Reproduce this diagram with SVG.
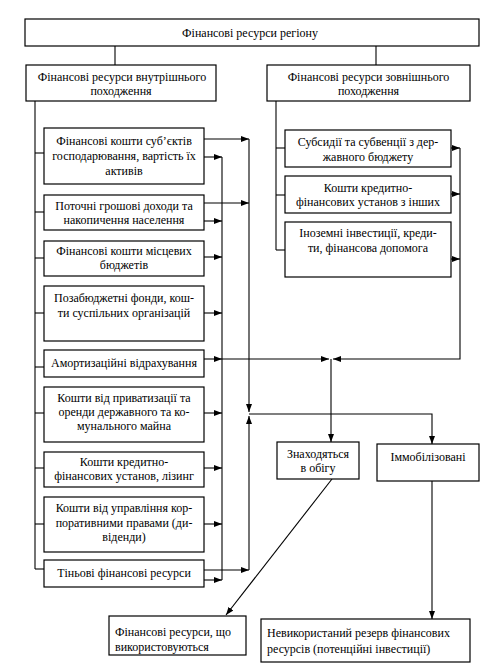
<svg xmlns="http://www.w3.org/2000/svg" width="494" height="671" viewBox="0 0 494 671">
<style>
rect.n{fill:#fff;stroke:#000;stroke-width:1.2}
text{font-family:"Liberation Serif","Times New Roman",serif;font-size:12px;fill:#000}
.c{text-anchor:middle}
#connectors line,#connectors polyline{stroke:#000;stroke-width:1.1;fill:none}
.a{marker-end:url(#ar)}
</style>
<defs>
<marker id="ar" viewBox="0 0 8 6" refX="8" refY="3" markerWidth="8" markerHeight="6" markerUnits="userSpaceOnUse" orient="auto">
<path d="M0,0 L8,3 L0,6 Z" fill="#000"/>
</marker>
</defs>
<rect width="494" height="671" fill="#fff"/>
<g id="connectors">
<line x1="115" y1="46" x2="115" y2="65"/>
<line x1="376" y1="46" x2="376" y2="65"/>
<!-- left bus -->
<line x1="35" y1="101" x2="35" y2="569"/>
<line x1="35" y1="153" x2="44" y2="153"/>
<line x1="35" y1="212" x2="44" y2="212"/>
<line x1="35" y1="258" x2="44" y2="258"/>
<line x1="35" y1="313" x2="44" y2="313"/>
<line x1="35" y1="367" x2="44" y2="367"/>
<line x1="35" y1="413" x2="44" y2="413"/>
<line x1="35" y1="468" x2="44" y2="468"/>
<line x1="35" y1="524" x2="44" y2="524"/>
<line x1="35" y1="569" x2="44" y2="569"/>
<!-- right bus -->
<line x1="276" y1="101" x2="276" y2="250"/>
<line x1="276" y1="148" x2="285" y2="148"/>
<line x1="276" y1="195" x2="285" y2="195"/>
<line x1="276" y1="250" x2="285" y2="250"/>
<!-- collector A -->
<line x1="222" y1="157" x2="222" y2="580"/>
<line class="a" x1="204" y1="157" x2="222" y2="157"/>
<line class="a" x1="204" y1="221" x2="222" y2="221"/>
<line class="a" x1="204" y1="257" x2="222" y2="257"/>
<line class="a" x1="204" y1="313" x2="222" y2="313"/>
<line class="a" x1="204" y1="359" x2="222" y2="359"/>
<line class="a" x1="204" y1="413" x2="222" y2="413"/>
<line class="a" x1="204" y1="468" x2="222" y2="468"/>
<line class="a" x1="204" y1="524" x2="222" y2="524"/>
<line class="a" x1="204" y1="580" x2="222" y2="580"/>
<!-- collector B -->
<line class="a" x1="204" y1="139" x2="249" y2="139"/>
<line class="a" x1="204" y1="203" x2="249" y2="203"/>
<line class="a" x1="204" y1="570" x2="249" y2="570"/>
<line class="a" x1="249" y1="139" x2="249" y2="412"/>
<line class="a" x1="249" y1="570" x2="249" y2="416"/>
<polyline class="a" points="249,414 432,414 432,444"/>
<!-- amortization line to circulating -->
<line class="a" x1="222" y1="359" x2="329" y2="359"/>
<!-- external collector -->
<line class="a" x1="451" y1="148" x2="460" y2="148"/>
<line class="a" x1="451" y1="194" x2="460" y2="194"/>
<line class="a" x1="451" y1="259" x2="460" y2="259"/>
<polyline class="a" points="460,148 460,359 333,359"/>
<line class="a" x1="331" y1="359" x2="331" y2="442"/>
<!-- outputs -->
<line class="a" x1="332" y1="479" x2="226" y2="615"/>
<line class="a" x1="432" y1="481" x2="432" y2="619"/>
</g>
<g id="n-region"><rect class="n" x="25" y="19" width="454" height="27"/><text class="c" x="250" y="37">Фінансові ресурси регіону</text></g>
<g id="n-internal"><rect class="n" x="26" y="65" width="190" height="36"/><text class="c" x="122" y="81">Фінансові ресурси внутрішнього</text><text class="c" x="121" y="95">походження</text></g>
<g id="n-external"><rect class="n" x="267" y="65" width="203" height="36"/><text class="c" x="368.5" y="81">Фінансові ресурси зовнішнього</text><text class="c" x="368.5" y="95">походження</text></g>
<g id="n-b1"><rect class="n" x="44" y="128" width="160" height="56"/><text class="c" x="124" y="145">Фінансові кошти суб’єктів</text><text class="c" x="124" y="160">господарювання, вартість їх</text><text class="c" x="124" y="175">активів</text></g>
<g id="n-b2"><rect class="n" x="44" y="195" width="160" height="35"/><text class="c" x="124" y="210">Поточні грошові доходи та</text><text class="c" x="124" y="224">накопичення населення</text></g>
<g id="n-b3"><rect class="n" x="44" y="241" width="160" height="35"/><text class="c" x="124" y="255">Фінансові кошти місцевих</text><text class="c" x="124" y="269">бюджетів</text></g>
<g id="n-b4"><rect class="n" x="44" y="286" width="160" height="55"/><text class="c" x="124" y="302">Позабюджетні фонди, кош-</text><text class="c" x="124" y="317">ти суспільних організацій</text></g>
<g id="n-b5"><rect class="n" x="44" y="350" width="160" height="27"/><text class="c" x="124" y="367">Амортизаційні відрахування</text></g>
<g id="n-b6"><rect class="n" x="44" y="387" width="160" height="55"/><text class="c" x="124" y="402">Кошти від приватизації та</text><text class="c" x="124" y="416">оренди державного та ко-</text><text class="c" x="124" y="430">мунального майна</text></g>
<g id="n-b7"><rect class="n" x="44" y="452" width="160" height="35"/><text class="c" x="124" y="466">Кошти кредитно-</text><text class="c" x="124" y="480">фінансових установ, лізинг</text></g>
<g id="n-b8"><rect class="n" x="44" y="497" width="160" height="55"/><text class="c" x="124" y="512">Кошти від управління кор-</text><text class="c" x="124" y="527">поративними правами (ди-</text><text class="c" x="124" y="541">віденди)</text></g>
<g id="n-b9"><rect class="n" x="44" y="560" width="160" height="27"/><text class="c" x="124" y="577">Тіньові фінансові ресурси</text></g>
<g id="n-r1"><rect class="n" x="285" y="130" width="166" height="37"/><text class="c" x="368" y="146">Субсидії та субвенції з дер-</text><text class="c" x="368" y="161">жавного бюджету</text></g>
<g id="n-r2"><rect class="n" x="285" y="176" width="166" height="37"/><text class="c" x="368" y="192">Кошти кредитно-</text><text class="c" x="368" y="206">фінансових установ з інших</text></g>
<g id="n-r3"><rect class="n" x="285" y="222" width="166" height="55"/><text class="c" x="368" y="237">Іноземні інвестиції, креди-</text><text class="c" x="368" y="252">ти, фінансова допомога</text></g>
<g id="n-circ"><rect class="n" x="277" y="442" width="82" height="37"/><text class="c" x="318" y="458">Знаходяться</text><text class="c" x="318" y="472">в обігу</text></g>
<g id="n-immob"><rect class="n" x="377" y="444" width="102" height="37"/><text class="c" x="428" y="461">Іммобілізовані</text></g>
<g id="n-used"><rect class="n" x="109" y="616" width="137" height="39"/><text x="115" y="636">Фінансові ресурси, що</text><text x="115" y="651">використовуються</text></g>
<g id="n-reserve"><rect class="n" x="261" y="619" width="209" height="43"/><text x="267" y="637">Невикористаний резерв фінансових</text><text x="267" y="653">ресурсів (потенційні інвестиції)</text></g>
</svg>
